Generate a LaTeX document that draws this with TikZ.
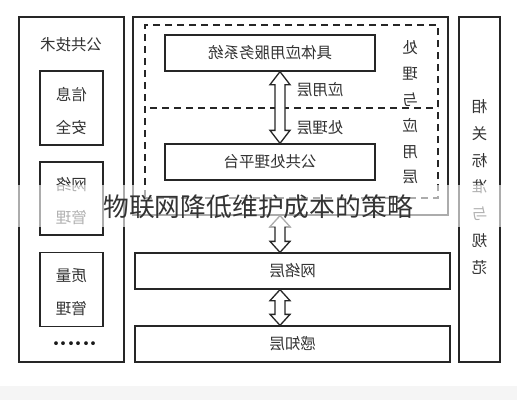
\documentclass[tikz,border=0pt]{standalone}
\usepackage{fontspec}
\setmainfont{Noto Sans CJK SC}
\usetikzlibrary{calc}
\tikzset{
  box/.style={draw=black!85, line width=1.3pt, fill=white, inner sep=0pt},
  dashbox/.style={draw=black!85, line width=1.3pt, dash pattern=on 7pt off 5pt, inner sep=0pt},
  lbl/.style={text=black!80, font=\fontsize{15.5}{15.5}\selectfont, inner sep=0pt},
  vlbl/.style={text=black!80, align=center, inner sep=0pt},
  harrow/.style={draw=black!85, line width=1.3pt, fill=white, line join=miter},
}
\newcommand\hollowarrow[3]{%
  \draw[harrow] ($(#1.south -| ax)$) -- ++(10,#3) -- ++(-5,0)
     -- ($(#2.north -| ax)+(5,-#3)$) -- ++(5,0) -- ($(#2.north -| ax)$)
     -- ++(-10,-#3) -- ++(5,0) -- ($(#1.south -| ax)+(-5,#3)$) -- ++(-5,0) -- cycle;}
\newcommand\onedot{\makebox[7.4pt]{\textbullet}}
\begin{document}
\begin{tikzpicture}[x=1pt,y=-1pt]
\useasboundingbox (0,0) rectangle (517,400);
\fill[white] (0,0) rectangle (517,400);
\fill[black!4] (0,386) rectangle (517,400);
\coordinate (ax) at (280,0);
% left column
\node[box, minimum width=105, minimum height=345] (leftcol) at (71.5,189.5) {};
\node[lbl] (ttl) at (71,45) {\reflectbox{公共技术}};
\node[box, minimum width=63, minimum height=74] (sec) at (71.5,108) {};
\node[vlbl, font=\fontsize{15.5}{33}\selectfont] (sect) at (71.5,111) {\reflectbox{信息}\\\reflectbox{安全}};
\node[box, minimum width=63, minimum height=73] (netm) at (71.5,198.5) {};
\node[vlbl, font=\fontsize{15.5}{33}\selectfont] (netmt) at (71.5,201) {\reflectbox{网络}\\\reflectbox{管理}};
\node[box, minimum width=63, minimum height=74] (qual) at (71.5,289.5) {};
\node[vlbl, font=\fontsize{15.5}{33}\selectfont] (qualt) at (71.5,292) {\reflectbox{质量}\\\reflectbox{管理}};
\node[inner sep=0pt, text=black!90, font=\fontsize{18}{18}\selectfont] (dots) at (75,346) {\onedot\onedot\onedot\onedot\onedot\onedot};
% middle
\node[box, minimum width=315, minimum height=198] (mid) at (290.5,116) {};
\node[dashbox, minimum width=293, minimum height=173] (dash) at (291.5,111.5) {};
\draw[dashbox] (150,108) -- (438,108);
\node[box, minimum width=210, minimum height=36] (app) at (270,53) {};
\node[lbl] (appt) at (270,53) {\reflectbox{具体应用服务系统}};
\node[box, minimum width=210, minimum height=36] (plat) at (270,162) {};
\node[lbl] (platt) at (270,162) {\reflectbox{公共处理平台}};
\node[lbl] (yyc) at (320,90) {\reflectbox{应用层}};
\node[lbl] (clc) at (320,128) {\reflectbox{处理层}};
\node[vlbl, font=\fontsize{15.5}{25.8}\selectfont] (vpa) at (410,112.5) {\reflectbox{处}\\\reflectbox{理}\\\reflectbox{与}\\\reflectbox{应}\\\reflectbox{用}\\\reflectbox{层}};
% right column
\node[box, minimum width=41, minimum height=345] (rightcol) at (479.5,189.5) {};
\node[vlbl, font=\fontsize{15.5}{26.7}\selectfont] (rct) at (479.5,187) {\reflectbox{相}\\\reflectbox{关}\\\reflectbox{标}\\\reflectbox{准}\\\reflectbox{与}\\\reflectbox{规}\\\reflectbox{范}};
% layers
\node[box, minimum width=315, minimum height=36] (net) at (292.5,271) {};
\node[lbl] (nett) at (292.5,271) {\reflectbox{网络层}};
\node[box, minimum width=315, minimum height=36] (sense) at (292.5,344) {};
\node[lbl] (senset) at (292.5,344) {\reflectbox{感知层}};
% arrows
\hollowarrow{app}{plat}{13}
\hollowarrow{mid}{net}{11}
\hollowarrow{net}{sense}{11}
% overlay band
\fill[white, opacity=0.62] (10,185) rectangle (507,227);
\node[inner sep=0pt, text=black!80, font=\fontsize{25.8}{25.8}\selectfont] (ovl) at (258,207) {物联网降低维护成本的策略};
\end{tikzpicture}
\end{document}
